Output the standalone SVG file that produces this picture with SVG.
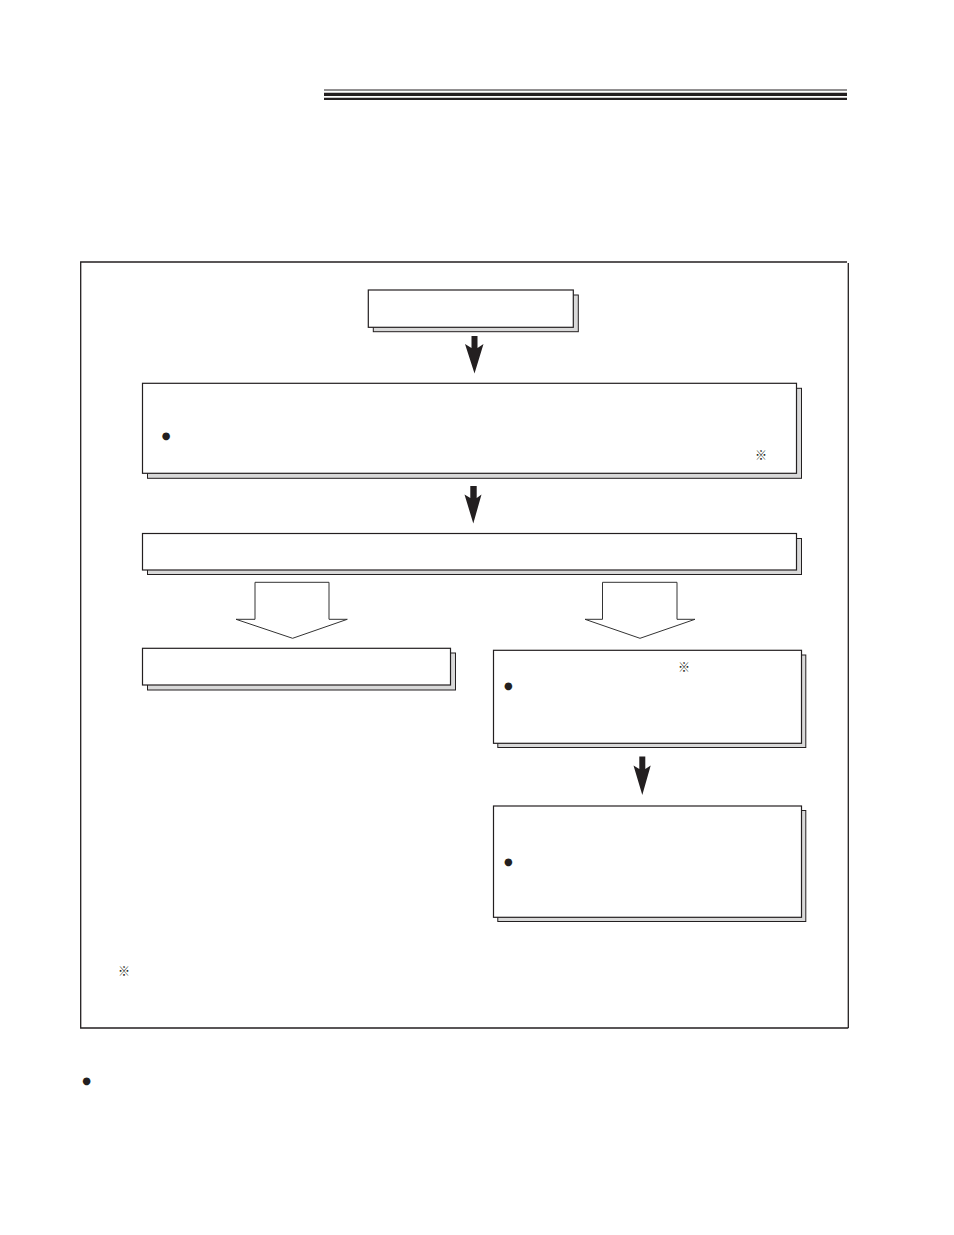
<svg xmlns="http://www.w3.org/2000/svg" width="954" height="1235" viewBox="0 0 954 1235">
<style>
.sh{fill:#d9d9d9;stroke:#231f20;stroke-width:1}
.bx{fill:#ffffff;stroke:#231f20;stroke-width:1.2}
.ln{stroke:#231f20;fill:none}
.ar{fill:#231f20;stroke:none}
.ho{fill:#ffffff;stroke:#333333;stroke-width:1}
.bul{font-family:"DejaVu Sans",sans-serif;font-size:10px;fill:#231f20}
.ref{font-family:"Noto Sans CJK JP",sans-serif;font-size:12px;fill:#231f20}
</style>
<rect width="954" height="1235" fill="#ffffff"/>
<g id="header">
<line class="ln" x1="324" y1="90" x2="847" y2="90" stroke-width="1"/>
<line class="ln" x1="324" y1="94.4" x2="847" y2="94.4" stroke-width="3.2"/>
<line class="ln" x1="324" y1="98.8" x2="847" y2="98.8" stroke-width="2.2"/>
</g>
<g id="frame">
<polyline class="ln" stroke-width="1.3" points="847,262 80.7,262 80.7,1028 848.3,1028"/>
<line class="ln" stroke-width="1.3" x1="848.3" y1="263" x2="848.3" y2="1028"/>
</g>
<g id="node1">
<rect class="sh" x="373.3" y="295" width="205" height="36.7"/>
<rect class="bx" x="368.3" y="290" width="205" height="37.3"/>
</g>
<g id="node2">
<rect class="sh" x="147.5" y="388.3" width="654" height="90"/>
<rect class="bx" x="142.5" y="383.3" width="654" height="90"/>
<text class="bul" x="166" y="439" text-anchor="middle">●</text>
<text class="ref" x="761" y="460" text-anchor="middle">※</text>
</g>
<g id="node3">
<rect class="sh" x="147.5" y="538.5" width="654" height="36"/>
<rect class="bx" x="142.5" y="533.5" width="654" height="36.5"/>
</g>
<g id="node4">
<rect class="sh" x="147.5" y="653" width="308" height="37"/>
<rect class="bx" x="142.5" y="648.3" width="308" height="36.7"/>
</g>
<g id="node5">
<rect class="sh" x="497.8" y="655" width="308" height="92.5"/>
<rect class="bx" x="493.5" y="650.3" width="308" height="93"/>
<text class="ref" x="684" y="672" text-anchor="middle">※</text>
<text class="bul" x="508.3" y="688.8" text-anchor="middle">●</text>
</g>
<g id="node6">
<rect class="sh" x="497.8" y="810.5" width="308" height="111"/>
<rect class="bx" x="493.5" y="806" width="308" height="111.3"/>
<text class="bul" x="508.3" y="864.5" text-anchor="middle">●</text>
</g>
<g id="notes">
<text class="ref" x="124" y="976" text-anchor="middle">※</text>
<text class="bul" x="86.5" y="1084" text-anchor="middle">●</text>
</g>
<g id="connectors">
<polygon class="ar" points="471.5,336 477.5,336 477.5,348 483.5,344 474.5,373.5 465,344 471.5,348"/>
<polygon class="ar" points="470.3,486 476.7,486 476.7,498 481.5,494.5 473.3,523.5 464.5,494.5 470.3,498"/>
<polygon class="ar" points="639.3,756.5 645.3,756.5 645.3,769 650.7,765.5 642.3,795 633.5,765.5 639.3,769"/>
<polygon class="ho" points="255,582.3 329,582.3 329,619.3 347.3,619.3 292.6,638.3 236,619.3 255,619.3"/>
<polygon class="ho" points="602.5,582.3 677,582.3 677,619.3 695,619.3 640,638.3 585,619.3 602.5,619.3"/>
</g>
</svg>
